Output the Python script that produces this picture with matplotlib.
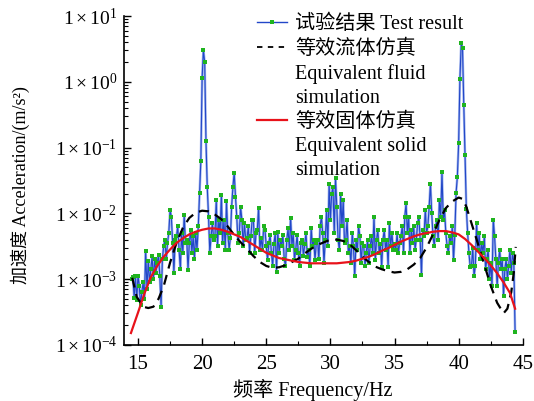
import numpy as np
import matplotlib
matplotlib.use("Agg")
import matplotlib.pyplot as plt
from matplotlib.lines import Line2D
from matplotlib.ticker import LogLocator, FuncFormatter, MultipleLocator, NullFormatter

plt.rcParams['font.family'] = ['Liberation Serif', 'Noto Sans CJK SC']
plt.rcParams['mathtext.fontset'] = 'custom'
plt.rcParams['mathtext.rm'] = 'Liberation Serif'
plt.rcParams['mathtext.it'] = 'Liberation Serif:italic'

# 试验结果: log10 of acceleration, one value every 0.1 Hz from 14.5 Hz
test_start = 14.5
test_step = 0.1
test_log = [
    -3.00, -2.97, -3.28, -2.96, -3.32,
    -2.95, -3.10, -3.40, -3.20, -3.05, -3.30, -2.58, -3.15, -2.72, -3.05,
    -2.85, -2.65, -3.00, -2.70, -2.90, -2.75, -2.63, -2.95, -3.42, -2.70,
    -2.50, -2.40, -2.70, -2.45, -2.30, -1.95, -2.05, -2.45, -2.90, -2.40,
    -2.35, -2.20, -2.55, -2.85, -2.30, -2.60, -2.02, -2.45, -2.40, -2.86,
    -2.45, -2.25, -2.60, -2.35, -2.70, -2.30, -2.55, -2.20, -1.69, -1.20,
    0.06, 0.48, 0.30, -0.90, -1.60, -2.05, -2.60, -2.35, -2.15, -2.40,
    -2.35, -1.80, -2.50, -2.10, -2.30, -1.72, -2.45, -2.10, -2.55, -1.82,
    -2.30, -2.55, -2.38, -1.90, -1.60, -1.38, -1.75, -2.05, -2.45, -2.30,
    -1.90, -2.10, -2.50, -2.15, -2.40, -2.37, -2.20, -2.60, -2.35, -2.10,
    -2.10, -2.60, -2.30, -2.25, -1.92, -2.55, -2.38, -2.55, -2.20, -2.25,
    -2.50, -2.71, -2.45, -2.33, -2.60, -2.80, -2.46, -2.30, -2.89, -2.28,
    -2.60, -2.40, -2.50, -2.33, -2.70, -2.80, -2.40, -2.23, -2.55, -2.07,
    -2.50, -2.30, -2.71, -2.55, -2.33, -2.60, -2.80, -2.45, -2.40, -2.65,
    -2.46, -2.30, -2.66, -2.55, -2.80, -2.23, -2.50, -2.40, -2.71, -2.45,
    -2.40, -2.70, -2.20, -2.05, -2.30, -2.76, -2.40, -1.95, -2.50, -1.55,
    -2.10, -1.70, -1.60, -2.30, -1.47, -1.90, -2.40, -2.56, -1.70, -2.20,
    -1.80, -2.45, -2.40, -2.10, -2.60, -2.50, -2.76, -2.30, -2.50, -2.96,
    -2.40, -2.56, -2.20, -2.35, -2.76, -2.45, -2.50, -2.80, -2.60, -2.40,
    -2.76, -2.50, -2.35, -2.60, -2.05, -2.71, -2.40, -2.25, -2.60, -2.46,
    -2.81, -2.40, -2.25, -2.55, -2.40, -2.81, -2.15, -2.50, -2.30, -2.56,
    -2.46, -2.56, -2.30, -2.61, -2.45, -2.35, -2.20, -2.60, -2.05, -1.85,
    -2.30, -2.05, -2.61, -2.25, -2.45, -2.20, -2.55, -2.40, -2.15, -2.05,
    -2.40, -2.94, -2.25, -2.35, -1.95, -2.30, -2.20, -1.90, -1.55, -2.00,
    -2.35, -2.50, -2.20, -2.10, -2.40, -1.80, -2.05, -1.37, -2.10, -1.95,
    -2.30, -2.50, -2.60, -2.35, -2.45, -2.20, -2.71, -2.33, -1.69, -1.44,
    -0.93, 0.05, 0.59, 0.52, -0.35, -1.11, -1.93, -2.30, -2.60, -2.81,
    -2.80, -2.53, -2.95, -2.80, -2.15, -2.55, -2.30, -2.70, -2.45, -2.60,
    -2.35, -2.85, -2.70, -2.55, -3.00, -2.75, -3.10, -2.10, -2.35, -2.70,
    -3.10, -2.75, -2.55, -2.85, -2.70, -3.26, -2.85, -2.70, -3.00, -2.80,
    -2.55, -2.90, -2.60, -2.75, -3.80,
]

# 等效流体仿真
fluid_freq = [14.55, 14.9, 15.4, 15.8, 16.2, 16.6, 17.0, 17.5, 18.0, 18.5, 19.0, 19.5,
              20.0, 20.5, 21.0, 21.5, 22.0, 22.5, 23.0, 23.5, 24.0, 24.5, 25.0, 25.5,
              26.0, 26.5, 27.0, 27.5, 28.0, 28.5, 29.0, 29.5, 30.0, 30.5, 31.0, 31.5,
              32.0, 32.5, 33.0, 33.5, 34.0, 34.5, 35.0, 35.5, 36.0, 36.5, 37.0, 37.5,
              38.0, 38.5, 39.0, 39.5, 40.0, 40.3, 40.6, 41.0, 41.5, 42.0, 42.5, 43.0,
              43.5, 43.8, 44.1, 44.3, 44.45]
fluid_log = [-2.98, -3.27, -3.42, -3.44, -3.42, -3.30, -3.11, -2.75, -2.45, -2.22, -2.07, -1.99,
             -1.96, -1.97, -2.02, -2.09, -2.20, -2.33, -2.44, -2.54, -2.65, -2.74, -2.80, -2.83,
             -2.82, -2.79, -2.74, -2.69, -2.61, -2.54, -2.48, -2.44, -2.40, -2.40, -2.42, -2.47,
             -2.56, -2.66, -2.74, -2.81, -2.85, -2.88, -2.90, -2.89, -2.85, -2.78, -2.68, -2.52,
             -2.32, -2.10, -1.92, -1.82, -1.76, -1.78, -1.90, -2.15, -2.46, -2.78, -3.10, -3.36,
             -3.52, -3.45, -3.20, -2.90, -2.51]

# 等效固体仿真
solid_freq = [14.45, 15.0, 15.5, 16.0, 16.5, 17.0, 17.5, 18.0, 18.5, 19.0, 19.5, 20.0,
              20.5, 21.0, 21.5, 22.0, 22.5, 23.0, 23.5, 24.0, 24.5, 25.0, 25.5, 26.0,
              26.5, 27.0, 27.5, 28.0, 28.5, 29.0, 29.5, 30.0, 30.5, 31.0, 31.5, 32.0,
              32.5, 33.0, 33.5, 34.0, 34.5, 35.0, 35.5, 36.0, 36.5, 37.0, 37.5, 38.0,
              38.5, 39.0, 39.5, 40.0, 40.5, 41.0, 41.5, 42.0, 42.5, 43.0, 43.5, 44.0, 44.4]
solid_log = [-3.82, -3.51, -3.22, -2.97, -2.80, -2.66, -2.55, -2.45, -2.38, -2.32, -2.28, -2.25,
             -2.23, -2.23, -2.25, -2.28, -2.32, -2.36, -2.42, -2.48, -2.54, -2.60, -2.64, -2.68,
             -2.70, -2.72, -2.74, -2.75, -2.76, -2.76, -2.76, -2.76, -2.76, -2.75, -2.74, -2.72,
             -2.69, -2.66, -2.62, -2.57, -2.53, -2.48, -2.43, -2.39, -2.35, -2.32, -2.30, -2.28,
             -2.27, -2.27, -2.29, -2.32, -2.39, -2.48, -2.58, -2.68, -2.79, -2.91, -3.05, -3.21, -3.45]

test_freq = test_start + test_step * np.arange(len(test_log))
test_val = 10.0 ** np.array(test_log)
fluid_val = 10.0 ** np.array(fluid_log)
solid_val = 10.0 ** np.array(solid_log)

fig = plt.figure(figsize=(5.34, 4.01), dpi=100)
ax = fig.add_axes([0.232, 0.140, 0.747, 0.820])

blue = '#2247c8'
green = '#1fb41f'
ax.plot(test_freq, test_val, color='#a3b6ee', lw=1.8, zorder=1)
ax.plot(test_freq, test_val, color=blue, lw=0.8, zorder=2,
        marker='s', ms=2.4, mfc=green, mec=green, mew=0)
ax.plot(fluid_freq, fluid_val, color='black', lw=1.6, dashes=(4.5, 3), zorder=3)
ax.plot(solid_freq, solid_val, color='#e8121a', lw=1.6, zorder=4)

ax.set_yscale('log')
ax.set_ylim(1e-4, 1e1)
ax.set_xlim(13.9, 45)
ax.xaxis.set_major_locator(MultipleLocator(5))
ax.xaxis.set_minor_locator(MultipleLocator(2.5))
ax.yaxis.set_major_locator(LogLocator(base=10, numticks=10))
ax.yaxis.set_minor_locator(LogLocator(base=10, subs=np.arange(2, 10), numticks=10))
ax.yaxis.set_minor_formatter(NullFormatter())
ax.yaxis.set_major_formatter(FuncFormatter(
    lambda v, p: r'$1\times10^{%d}$' % int(round(np.log10(v)))))

for s in ['top', 'right']:
    ax.spines[s].set_visible(False)
for s in ['left', 'bottom']:
    ax.spines[s].set_linewidth(1.2)
ax.tick_params(which='major', direction='in', length=5, width=1.0)
ax.tick_params(which='minor', direction='in', length=3, width=0.8)
ax.tick_params(axis='x', labelsize=15, pad=7)
ax.tick_params(axis='y', labelsize=14, pad=5)

ax.set_xlabel('频率 Frequency/Hz', fontsize=14.5)
ax.xaxis.set_label_coords(0.474, -0.105)
ax.set_ylabel('加速度 Acceleration/(m/s²)', fontsize=13)
ax.yaxis.set_label_coords(-0.236, 0.485)

blank = Line2D([], [], color='none')
handles = [
    Line2D([], [], color=blue, lw=1.0, marker='s', ms=2.5, mfc=green, mec=green, mew=0),
    Line2D([], [], color='black', lw=1.3, dashes=(3, 3)),
    blank, blank,
    Line2D([], [], color='#e8121a', lw=1.6),
    blank, blank,
]
labels = ['试验结果 Test result', '等效流体仿真', 'Equivalent fluid', 'simulation',
          '等效固体仿真', 'Equivalent solid', 'simulation']
fig.legend(handles, labels, loc='upper left', bbox_to_anchor=(257 / 534, 1 - 15 / 401),
           frameon=False, fontsize=14.5, handlelength=1.5, handletextpad=0.4,
           labelspacing=0.25, borderpad=0, borderaxespad=0, numpoints=1)

fig.savefig('out.png', dpi=100)
